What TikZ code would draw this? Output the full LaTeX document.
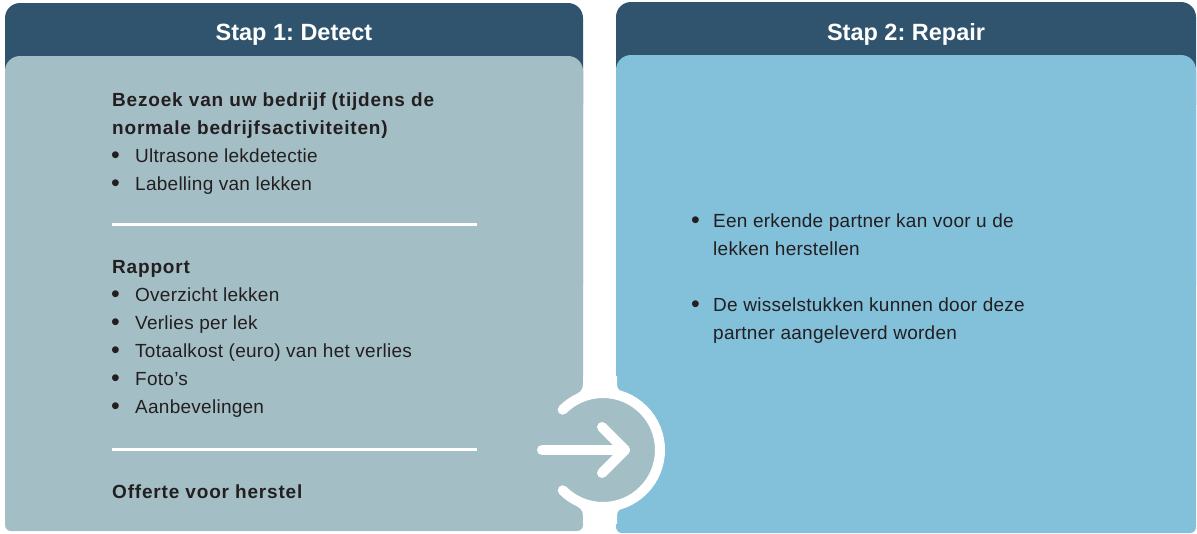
\documentclass[tikz,border=0pt]{standalone}
\usepackage{fontspec}
\setmainfont{Liberation Sans}
\newfontfamily\bodyfont[LetterSpace=1.4]{Liberation Sans}
\newfontfamily\boldfont[LetterSpace=4.3]{Liberation Sans Bold}
\definecolor{hdr}{HTML}{30546E}
\definecolor{lpan}{HTML}{A4BEC5}
\definecolor{rpan}{HTML}{83C0DA}
\definecolor{txt}{HTML}{231F20}
\tikzset{
  headtext/.style={text=white, font=\frenchspacing\fontsize{23.5}{28}\selectfont\bfseries, anchor=base, inner sep=0pt},
  bodytext/.style={text=txt, font=\frenchspacing\bodyfont\fontsize{19}{28}\selectfont, anchor=base west, inner sep=0pt},
  boldtext/.style={text=txt, font=\frenchspacing\boldfont\fontsize{19}{28}\selectfont, anchor=base west, inner sep=0pt},
  bul/.style={text=txt, font=\fontsize{25}{28}\selectfont, anchor=base west, inner sep=0pt},
  sepline/.style={draw=white, line width=3},
  iconline/.style={draw=white, line width=10, line cap=round, line join=round}
}
\begin{document}
\begin{tikzpicture}[x=1pt,y=-1pt]
\useasboundingbox (0,0) rectangle (1197,533);
\fill[white] (0,0) rectangle (1197,533);
% left panel
\fill[hdr, rounded corners=15] (5,3) rectangle (583,120);
\fill[lpan, rounded corners=15] (5,56) rectangle (583,300);
\fill[lpan, rounded corners=6] (5,100) rectangle (583,531);
% right panel
\fill[hdr, rounded corners=15] (616,2) rectangle (1196,120);
\fill[rpan, rounded corners=15] (616,55) rectangle (1196,300);
\fill[rpan, rounded corners=6] (616,100) rectangle (1196,533);
% headers
\node[headtext] (h1) at (294,40) {Stap 1: Detect};
\node[headtext] (h2) at (906,40) {Stap 2: Repair};
% left content
\node[boldtext] (b1) at (112,106) {Bezoek van uw bedrijf (tijdens de};
\node[boldtext] (b2) at (112,134) {normale bedrijfsactiviteiten)};
\node[bul] (u1) at (111,163) {•};
\node[bodytext] (t1) at (135,162) {Ultrasone lekdetectie};
\node[bul] (u2) at (111,191) {•};
\node[bodytext] (t2) at (135,190) {Labelling van lekken};
\draw[sepline] (112,224) -- (477,224);
\node[boldtext] (r0) at (112,273.5) {Rapport};
\node[bul] (v1) at (111,302.5) {•};
\node[bodytext] (r1) at (135,301.5) {Overzicht lekken};
\node[bul] (v2) at (111,330.5) {•};
\node[bodytext] (r2) at (135,329.5) {Verlies per lek};
\node[bul] (v3) at (111,358.5) {•};
\node[bodytext] (r3) at (135,357.5) {Totaalkost (euro) van het verlies};
\node[bul] (v4) at (111,386.5) {•};
\node[bodytext] (r4) at (135,385.5) {Foto’s};
\node[bul] (v5) at (111,414.5) {•};
\node[bodytext] (r5) at (135,413.5) {Aanbevelingen};
\draw[sepline] (112,449) -- (477,449);
\node[boldtext] (o1) at (112,498) {Offerte voor herstel};
% right content
\node[bul] (w1) at (691,228) {•};
\node[bodytext] (p1) at (713,227) {Een erkende partner kan voor u de};
\node[bodytext] (p2) at (713,255) {lekken herstellen};
\node[bul] (w2) at (691,312) {•};
\node[bodytext] (p3) at (713,311) {De wisselstukken kunnen door deze};
\node[bodytext] (p4) at (713,339) {partner aangeleverd worden};
% arrow icon
\coordinate (c) at (603,450);
\fill[white] (583,376) -- (583,384) .. controls (583,390) and (580,392) .. (576.8,393.8) -- (603,390) -- (603,376) -- cycle;
\fill[white] (617,376) -- (617,384) .. controls (617,390) and (620,392) .. (629.2,393.8) -- (603,390) -- (603,376) -- cycle;
\fill[white] (583,524) -- (583,516) .. controls (583,510) and (580,508) .. (576.8,506.2) -- (603,510) -- (603,524) -- cycle;
\fill[white] (617,524) -- (617,516) .. controls (617,510) and (620,508) .. (629.2,506.2) -- (603,510) -- (603,524) -- cycle;
\fill[lpan] (c) circle[radius=56];
\draw[iconline] (c) ++(135:57) arc[start angle=135, end angle=-135, radius=57];
\coordinate (a0) at (542,450);
\coordinate (a1) at (625,450);
\coordinate (a2) at (602,427);
\coordinate (a3) at (602,473);
\draw[iconline] (a0) -- (a1);
\draw[iconline] (a2) -- (a1) -- (a3);
\end{tikzpicture}
\end{document}
